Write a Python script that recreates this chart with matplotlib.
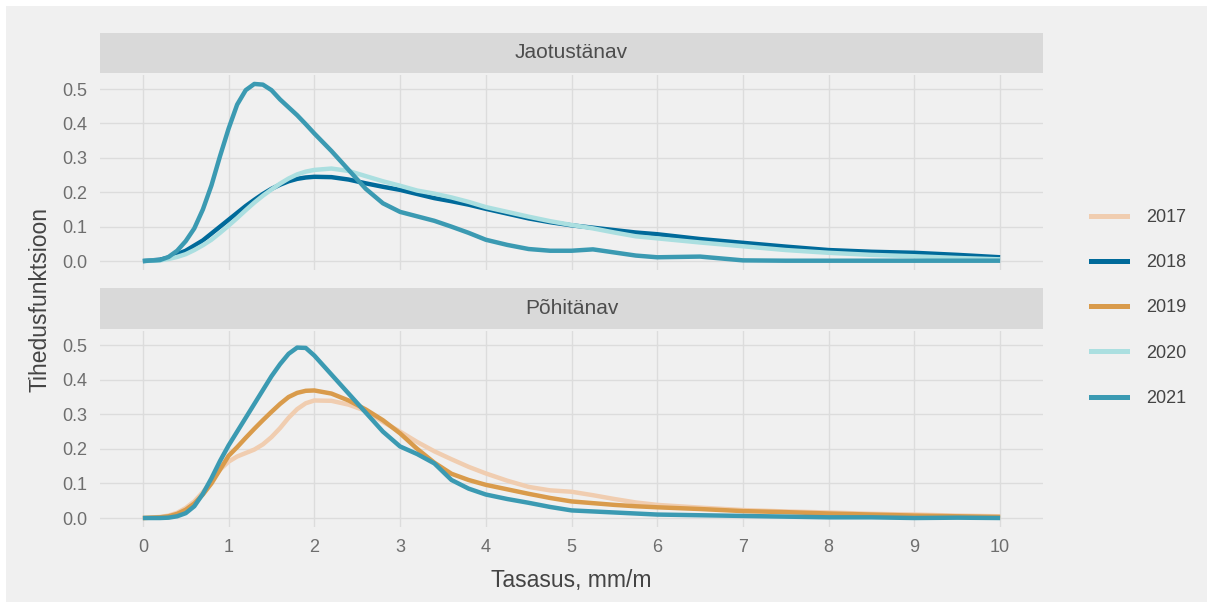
import matplotlib.pyplot as plt
from matplotlib.patches import Rectangle
from matplotlib.lines import Line2D

plt.rcParams['font.family'] = ['Liberation Sans', 'DejaVu Sans']

# -------------------- DATA --------------------
x = [0, 0.2, 0.3, 0.4, 0.5, 0.6, 0.7, 0.8, 0.9, 1.0, 1.1, 1.2, 1.3, 1.4, 1.5,
     1.6, 1.7, 1.8, 1.9, 2.0, 2.2, 2.4, 2.6, 2.8, 3.0, 3.2, 3.4, 3.6, 3.8,
     4.0, 4.25, 4.5, 4.75, 5.0, 5.25, 5.5, 5.75, 6.0, 6.5, 7.0, 7.5, 8.0,
     8.5, 9.0, 9.5, 10.0]

# Jaotustänav
jaot_2018 = [0, 0.004, 0.01, 0.02, 0.03, 0.045, 0.06, 0.08, 0.10, 0.12, 0.14,
             0.16, 0.178, 0.195, 0.21, 0.222, 0.232, 0.239, 0.243, 0.245,
             0.244, 0.237, 0.226, 0.216, 0.207, 0.195, 0.183, 0.174, 0.164,
             0.152, 0.138, 0.124, 0.113, 0.104, 0.097, 0.09, 0.083, 0.078,
             0.064, 0.053, 0.042, 0.032, 0.027, 0.024, 0.018, 0.011]
jaot_2020 = [0, 0.002, 0.006, 0.012, 0.02, 0.032, 0.046, 0.062, 0.082, 0.103,
             0.125, 0.148, 0.17, 0.19, 0.208, 0.225, 0.24, 0.252, 0.26, 0.265,
             0.269, 0.262, 0.247, 0.232, 0.219, 0.205, 0.196, 0.185, 0.172,
             0.157, 0.143, 0.129, 0.116, 0.105, 0.095, 0.083, 0.072, 0.066,
             0.054, 0.043, 0.032, 0.024, 0.018, 0.014, 0.009, 0.005]
jaot_2021 = [0, 0.003, 0.012, 0.03, 0.058, 0.095, 0.15, 0.22, 0.305, 0.385,
             0.455, 0.497, 0.515, 0.513, 0.497, 0.47, 0.447, 0.424, 0.398,
             0.371, 0.32, 0.265, 0.21, 0.168, 0.143, 0.13, 0.117, 0.10, 0.082,
             0.062, 0.047, 0.035, 0.03, 0.03, 0.034, 0.025, 0.016, 0.011,
             0.013, 0.002, 0.001, 0.001, 0.001, 0.001, 0.001, 0.001]

# Põhitänav
pohi_2017 = [0, 0.003, 0.007, 0.015, 0.029, 0.048, 0.075, 0.105, 0.14, 0.163,
             0.178, 0.188, 0.198, 0.213, 0.234, 0.26, 0.29, 0.315, 0.332, 0.34,
             0.339, 0.328, 0.31, 0.278, 0.25, 0.22, 0.193, 0.17, 0.148, 0.129,
             0.108, 0.09, 0.08, 0.076, 0.066, 0.055, 0.045, 0.038, 0.03,
             0.023, 0.019, 0.016, 0.012, 0.01, 0.007, 0.005]
pohi_2019 = [0, 0.002, 0.005, 0.012, 0.024, 0.042, 0.068, 0.10, 0.14, 0.18,
             0.205, 0.232, 0.258, 0.283, 0.307, 0.33, 0.35, 0.362, 0.368,
             0.369, 0.36, 0.34, 0.314, 0.283, 0.245, 0.20, 0.16, 0.128, 0.11,
             0.096, 0.083, 0.07, 0.058, 0.048, 0.043, 0.038, 0.034, 0.031,
             0.026, 0.02, 0.017, 0.013, 0.01, 0.007, 0.005, 0.003]
pohi_2021 = [0, 0.0, 0.001, 0.005, 0.014, 0.034, 0.07, 0.115, 0.165, 0.21,
             0.25, 0.29, 0.33, 0.37, 0.41, 0.445, 0.475, 0.493, 0.492, 0.47,
             0.415, 0.36, 0.305, 0.25, 0.207, 0.185, 0.158, 0.11, 0.085,
             0.068, 0.055, 0.044, 0.032, 0.022, 0.019, 0.016, 0.013, 0.01,
             0.008, 0.006, 0.004, 0.002, 0.002, 0.0, 0.001, 0.0]

years = ['2017', '2018', '2019', '2020', '2021']
colors = {'2017': '#f0cdb0', '2018': '#006a9a', '2019': '#d99b4b',
          '2020': '#abdfe0', '2021': '#3b9ab2'}

panels = [
    ('Jaotustänav', {'2018': jaot_2018, '2020': jaot_2020, '2021': jaot_2021}),
    ('Põhitänav', {'2017': pohi_2017, '2019': pohi_2019, '2021': pohi_2021}),
]

# -------------------- FIGURE --------------------
W, H = 1213, 608
BG = '#f0f0f0'
fig = plt.figure(figsize=(W / 100, H / 100), dpi=100)
fig.patch.set_facecolor('white')
fig.add_artist(Rectangle((6 / W, 6 / H), (W - 12) / W, (H - 12) / H,
                         transform=fig.transFigure, facecolor=BG,
                         edgecolor='none', zorder=-10))

left, right = 100, 1043
panel_px = [(75, 270), (331, 527)]    # top, bottom (pixels from top)
strip_px = [(33, 73), (288, 329)]

def fbox(x0, x1, y0, y1):
    return [x0 / W, (H - y1) / H, (x1 - x0) / W, (y1 - y0) / H]

for i, (title, series) in enumerate(panels):
    ax = fig.add_axes(fbox(left, right, *panel_px[i]))
    ax.set_facecolor('none')
    for y in years:
        if y in series:
            ax.plot(x, series[y], color=colors[y], lw=3.2,
                    solid_capstyle='butt', solid_joinstyle='round', zorder=3)
    ax.set_xlim(-0.5, 10.5)
    ax.set_ylim(-0.026, 0.541)
    ax.set_xticks(range(0, 11))
    ax.set_yticks([0.0, 0.1, 0.2, 0.3, 0.4, 0.5])
    ax.set_yticklabels(['0.0', '0.1', '0.2', '0.3', '0.4', '0.5'])
    ax.grid(True, color='#dcdcdc', lw=1.0)
    ax.set_axisbelow(True)
    for s in ax.spines.values():
        s.set_visible(False)
    ax.tick_params(length=0, labelsize=13, colors='#6e6e6e', pad=9)
    if i == 0:
        ax.tick_params(labelbottom=False)

    # strip
    sax = fig.add_axes(fbox(left, right, *strip_px[i]))
    sax.set_facecolor('#d9d9d9')
    sax.set_xticks([])
    sax.set_yticks([])
    for s in sax.spines.values():
        s.set_visible(False)
    sax.text(0.5, 0.5, title, ha='center', va='center', fontsize=15,
             color='#4d4d4d', transform=sax.transAxes)

fig.text(571 / W, 1 - 580 / H, 'Tasasus, mm/m', ha='center', va='center',
         fontsize=16.5, color='#444444')
fig.text(40 / W, 1 - 300 / H, 'Tihedusfunktsioon', ha='center', va='center',
         rotation=90, fontsize=16.5, color='#444444')

handles = [Line2D([], [], color=colors[y], lw=3.6) for y in years]
fig.legend(handles, years, loc='center left',
           bbox_to_anchor=(1091 / W, 1 - 308 / H), frameon=False,
           fontsize=13, handlelength=1.98, handletextpad=1.05,
           labelspacing=1.56, borderpad=0, borderaxespad=0,
           labelcolor='#444444')

fig.savefig('out.png', dpi=100, facecolor=fig.get_facecolor())
